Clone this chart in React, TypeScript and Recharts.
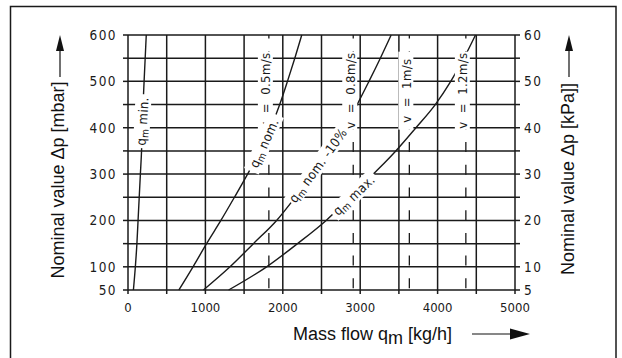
import React from 'react'
import {
  ComposedChart,
  Line,
  XAxis,
  YAxis,
  CartesianGrid,
  ReferenceLine,
  ReferenceDot,
} from 'recharts'

// pressure drop steps [mbar] at which the curves were read
const pressure = [50, 100, 150, 200, 250, 300, 350, 400, 450, 500, 550, 600]

// mass flow [kg/h] at the pressures above
const qmMin = [70, 95, 115, 130, 145, 160, 175, 185, 195, 208, 222, 236]
const qmNom = [657, 840, 1015, 1200, 1375, 1545, 1705, 1845, 1960, 2060, 2155, 2245]
const qmNom10 = [975, 1318, 1620, 1920, 2160, 2390, 2600, 2790, 2960, 3113, 3260, 3400]
const qmMax = [1300, 1791, 2190, 2560, 2870, 3170, 3460, 3720, 3970, 4170, 4340, 4490]

// flow velocity lines
const velocities = ['0.5', '0.8', '1', '1.2']
const velocityFlow = [1820, 2910, 3635, 4365]

const xTicks = [0, 500, 1000, 1500, 2000, 2500, 3000, 3500, 4000, 4500, 5000]
const mbarTicks = [50, 100, 150, 200, 250, 300, 350, 400, 450, 500, 550, 600]
const mbarLabels = [50, 100, 200, 300, 400, 500, 600]
const kpaTicks = [5, 10, 15, 20, 25, 30, 35, 40, 45, 50, 55, 60]
const kpaLabels = [5, 10, 20, 30, 40, 50, 60]

const toPoints = (qs: number[]) => qs.map((q, i) => ({ q, p: pressure[i] }))

const INK = '#1a1a1a'
const DIN = "'DejaVu Sans Condensed', 'Liberation Sans Narrow', 'DejaVu Sans', sans-serif"
const SANS = "'Liberation Sans', Arial, sans-serif"

function CurveLabel(props: any) {
  const { cx, cy, angle, rest, width } = props
  if (cx == null || cy == null) return null
  return (
    <g transform={`translate(${cx},${cy}) rotate(${angle})`}>
      <rect x={-width / 2} y={-8} width={width} height={16} fill="#fff" />
      <text
        textAnchor="middle"
        dominantBaseline="central"
        fontFamily={DIN}
        fontSize={13}
        letterSpacing={0.4}
        fill={INK}
      >
        q<tspan fontSize={10} dy={3}>m</tspan>
        <tspan dy={-3}>{' ' + rest}</tspan>
      </text>
    </g>
  )
}

function SpeedLabel(props: any) {
  const { cx, cy, v } = props
  if (cx == null || cy == null) return null
  return (
    <g transform={`translate(${cx - 3},${cy}) rotate(-90)`}>
      <rect x={-39} y={-8} width={78} height={15} fill="#fff" />
      <text
        textAnchor="middle"
        dominantBaseline="central"
        fontFamily={DIN}
        fontSize={13}
        letterSpacing={0.4}
        fill={INK}
        xmlSpace="preserve"
      >
        {`v  =  ${v}m/s`}
      </text>
    </g>
  )
}

const curves = [qmNom, qmNom10, qmMax]

export default function App() {
  const tick = { fontFamily: DIN, fontSize: 13, fill: INK }
  const yTick = { fontFamily: DIN, fontSize: 13.5, fill: INK, letterSpacing: 1.4 }
  return (
    <div style={{ position: 'relative', width: 622, height: 358, background: '#fff' }}>
      <style>{'body{margin:0;background:#fff}'}</style>
      <ComposedChart
        width={622}
        height={358}
        margin={{ top: 35, right: 67, bottom: 38, left: 68 }}
      >
        <CartesianGrid yAxisId="left" stroke={INK} strokeWidth={1.5} />
        <XAxis
          dataKey="q"
          type="number"
          domain={[0, 5000]}
          ticks={xTicks}
          interval={0}
          allowDuplicatedCategory={false}
          tickFormatter={(v: number) => (v % 1000 === 0 ? String(v) : '')}
          axisLine={false}
          tickLine={{ stroke: INK, strokeWidth: 1.5 }}
          tickSize={4}
          tickMargin={9}
          height={30}
          tick={tick}
        />
        <YAxis
          yAxisId="left"
          type="number"
          domain={[50, 600]}
          ticks={mbarTicks}
          interval={0}
          tickFormatter={(v: number) => (mbarLabels.includes(v) ? String(v) : '')}
          axisLine={false}
          tickLine={{ stroke: INK, strokeWidth: 1.5 }}
          tickSize={5}
          tickMargin={6}
          width={60}
          tick={yTick}
        />
        <YAxis
          yAxisId="right"
          orientation="right"
          type="number"
          domain={[5, 60]}
          allowDataOverflow
          ticks={kpaTicks}
          interval={0}
          tickFormatter={(v: number) => (kpaLabels.includes(v) ? String(v) : '')}
          axisLine={false}
          tickLine={{ stroke: INK, strokeWidth: 1.5 }}
          tickSize={5}
          tickMargin={4}
          width={40}
          tick={yTick}
        />
        {velocityFlow.map((q) => (
          <ReferenceLine
            key={q}
            yAxisId="left"
            segment={[{ x: q, y: 50 }, { x: q, y: 600 }]}
            stroke={INK}
            strokeWidth={1.3}
            strokeDasharray="10 12.7"
            strokeDashoffset={21}
          />
        ))}
        {/* q_m min drawn on the kPa axis (same scale, mbar / 10) */}
        <Line
          yAxisId="right"
          data={toPoints(qmMin)}
          dataKey={(d: any) => d.p / 10}
          type="monotone"
          stroke={INK}
          strokeWidth={1.4}
          dot={false}
          activeDot={false}
          isAnimationActive={false}
        />
        {curves.map((c, i) => (
          <Line
            key={i}
            yAxisId="left"
            data={toPoints(c)}
            dataKey="p"
            type="monotone"
            stroke={INK}
            strokeWidth={1.4}
            dot={false}
            activeDot={false}
            isAnimationActive={false}
          />
        ))}
        {velocityFlow.map((q, i) => (
          <ReferenceDot
            key={'v' + i}
            yAxisId="left"
            x={q}
            y={480}
            zIndex={2000}
            shape={(p: any) => <SpeedLabel {...p} v={velocities[i]} />}
          />
        ))}
        <ReferenceDot yAxisId="left" x={184} y={414} zIndex={2000}
          shape={(p: any) => <CurveLabel {...p} angle={-87} rest="min." width={54} />} />
        <ReferenceDot yAxisId="left" x={1757} y={367} zIndex={2000}
          shape={(p: any) => <CurveLabel {...p} angle={-66} rest="nom." width={62} />} />
        <ReferenceDot yAxisId="left" x={2453} y={319} zIndex={2000}
          shape={(p: any) => <CurveLabel {...p} angle={-54} rest="nom. -10%" width={92} />} />
        <ReferenceDot yAxisId="left" x={2917} y={255} zIndex={2000}
          shape={(p: any) => <CurveLabel {...p} angle={-44} rest="max." width={58} />} />
      </ComposedChart>
      <svg
        width={622}
        height={358}
        style={{ position: 'absolute', left: 0, top: 0, pointerEvents: 'none' }}
      >
        <rect x={10.5} y={6.5} width={605.5} height={360} fill="none" stroke={INK} strokeWidth={1.5} />
        {/* left title */}
        <text
          transform="translate(58,180) rotate(-90)"
          textAnchor="middle"
          dominantBaseline="central"
          fontFamily={SANS}
          fontSize={18}
          fill="#111"
        >
          Nominal value Δp [mbar]
        </text>
        <line x1={60} y1={77} x2={60} y2={48} stroke="#111" strokeWidth={1.2} />
        <polygon points="60,35 56,51 64,51" fill="#111" />
        {/* right title */}
        <text
          transform="translate(568,179) rotate(-90)"
          textAnchor="middle"
          dominantBaseline="central"
          fontFamily={SANS}
          fontSize={18}
          fill="#111"
        >
          Nominal value Δp [kPa]]
        </text>
        <line x1={569} y1={77} x2={569} y2={48} stroke="#111" strokeWidth={1.2} />
        <polygon points="569,35 565,51 573,51" fill="#111" />
        {/* bottom title */}
        <text x={293} y={340} fontFamily={SANS} fontSize={18} fill="#111">
          Mass flow q<tspan dy={4}>m</tspan>
          <tspan dy={-4}> [kg/h]</tspan>
        </text>
        <line x1={472} y1={334} x2={512} y2={334} stroke="#111" strokeWidth={1.2} />
        <polygon points="530,334 510,328.5 510,339.5" fill="#111" />
      </svg>
    </div>
  )
}
